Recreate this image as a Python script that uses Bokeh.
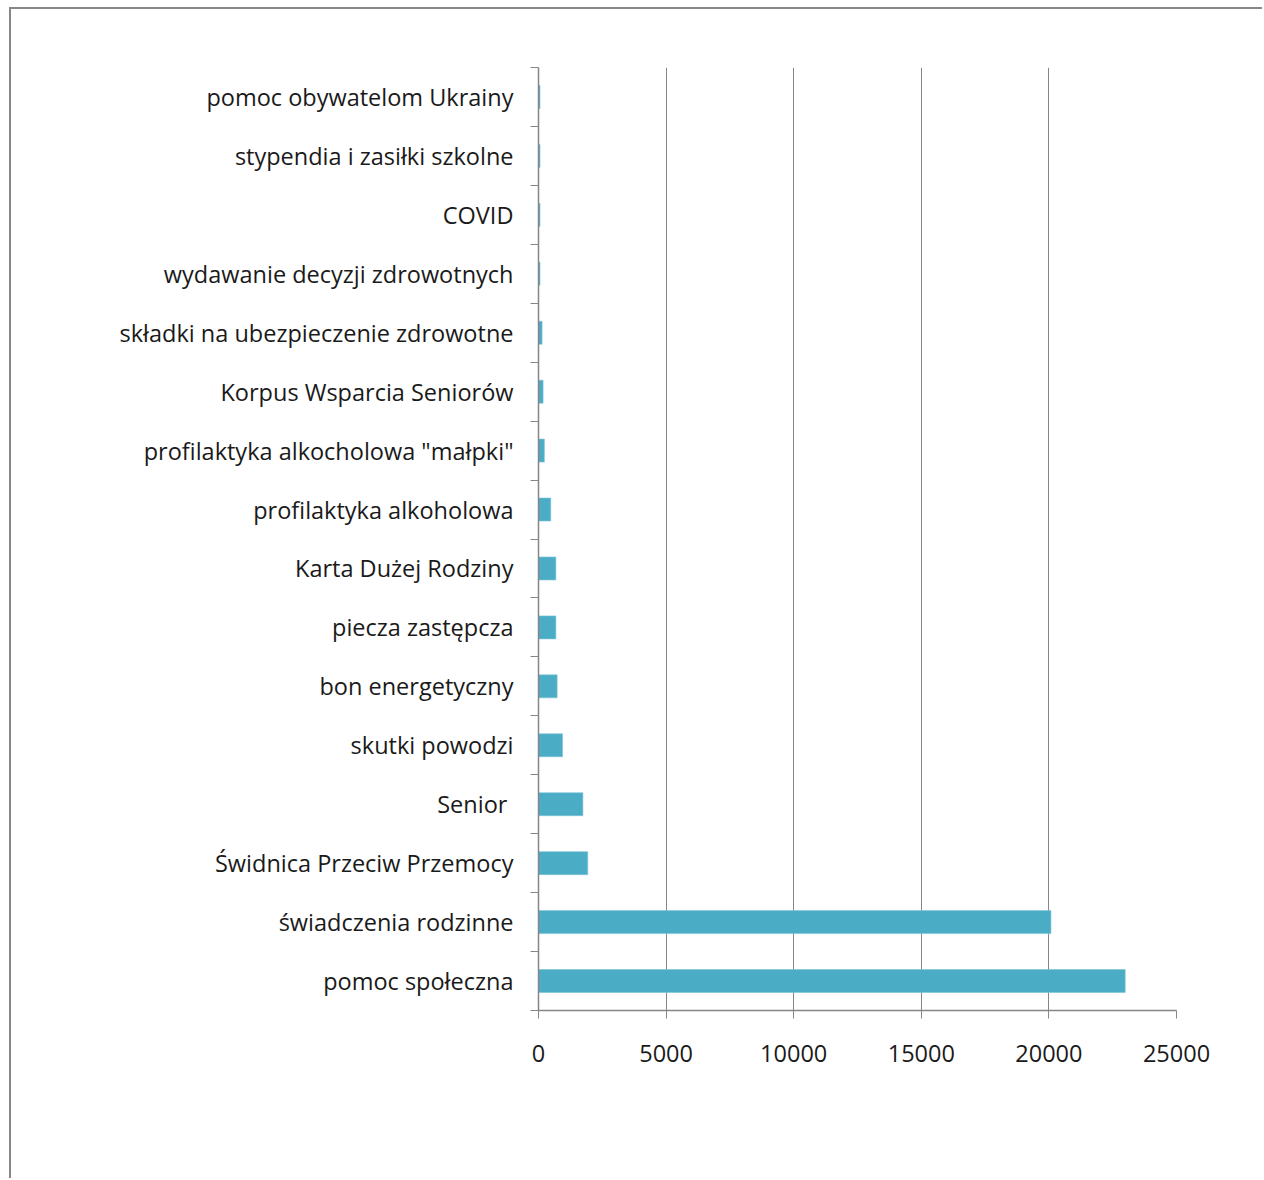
from bokeh.plotting import figure
from bokeh.models import FixedTicker, CustomJSTickFormatter, Range1d, ColumnDataSource
from bokeh.embed import file_html
from bokeh.resources import INLINE

# bottom to top
categories = [
    "pomoc społeczna",
    "świadczenia rodzinne",
    "Świdnica Przeciw Przemocy",
    "Senior ",
    "skutki powodzi",
    "bon energetyczny",
    "piecza zastępcza",
    "Karta Dużej Rodziny",
    "profilaktyka alkoholowa",
    "profilaktyka alkocholowa \"małpki\"",
    "Korpus Wsparcia Seniorów",
    "składki na ubezpieczenie zdrowotne",
    "wydawanie decyzji zdrowotnych",
    "COVID",
    "stypendia i zasiłki szkolne",
    "pomoc obywatelom Ukrainy",
]
values = [22990, 20080, 1930, 1740, 940, 730, 680, 680, 480, 230, 180, 140, 60, 60, 60, 60]
x_ticks = [0, 5000, 10000, 15000, 20000, 25000]

n = len(categories)
pos = [i + 0.5 for i in range(n)]
source = ColumnDataSource(dict(y=pos, v=values, cat=categories))

FONT = "Open Sans"
GRAY = "#868686"

p = figure(width=1253, height=1171, output_backend="svg", toolbar_location=None,
           x_range=Range1d(0, 25000), y_range=Range1d(0, n),
           min_border_left=527, min_border_right=88, min_border_top=58, min_border_bottom=170,
           background_fill_color="white", border_fill_color="white")
p.outline_line_color = None

p.hbar(y="y", right="v", left=0, height=0.39, source=source,
       fill_color="#4BACC6", line_color="#7cc3d6", line_width=0.6)

# x axis
xa = p.xaxis[0]
xa.ticker = FixedTicker(ticks=x_ticks, minor_ticks=[])
xa.axis_line_color = GRAY
xa.axis_line_width = 1.5
xa.major_tick_line_color = GRAY
xa.major_tick_in = 0
xa.major_tick_out = 8
xa.minor_tick_line_color = None
xa.major_label_text_font = FONT
xa.major_label_text_font_size = "23.5px"
xa.major_label_text_color = "#1a1a1a"
xa.major_label_standoff = 26

# y axis
ya = p.yaxis[0]
ya.ticker = FixedTicker(ticks=pos, minor_ticks=list(range(n + 1)))
ya.formatter = CustomJSTickFormatter(args=dict(labels=categories),
                                     code="return labels[Math.round(tick - 0.5)];")
ya.axis_line_color = GRAY
ya.axis_line_width = 1.5
ya.major_tick_line_color = None
ya.major_tick_in = 0
ya.major_tick_out = 8
ya.minor_tick_line_color = GRAY
ya.minor_tick_in = 0
ya.minor_tick_out = 8
ya.major_label_text_font = FONT
ya.major_label_text_font_size = "23.5px"
ya.major_label_text_color = "#1a1a1a"
ya.major_label_standoff = 17

p.xgrid.ticker = FixedTicker(ticks=x_ticks)
p.xgrid.grid_line_color = GRAY
p.xgrid.grid_line_width = 1
p.ygrid.grid_line_color = None

p.styles = {"border-left": "2px solid #888888", "border-top": "2px solid #888888",
            "margin-left": "9px", "margin-top": "7px"}

open("out.html", "w").write(file_html(p, INLINE))
